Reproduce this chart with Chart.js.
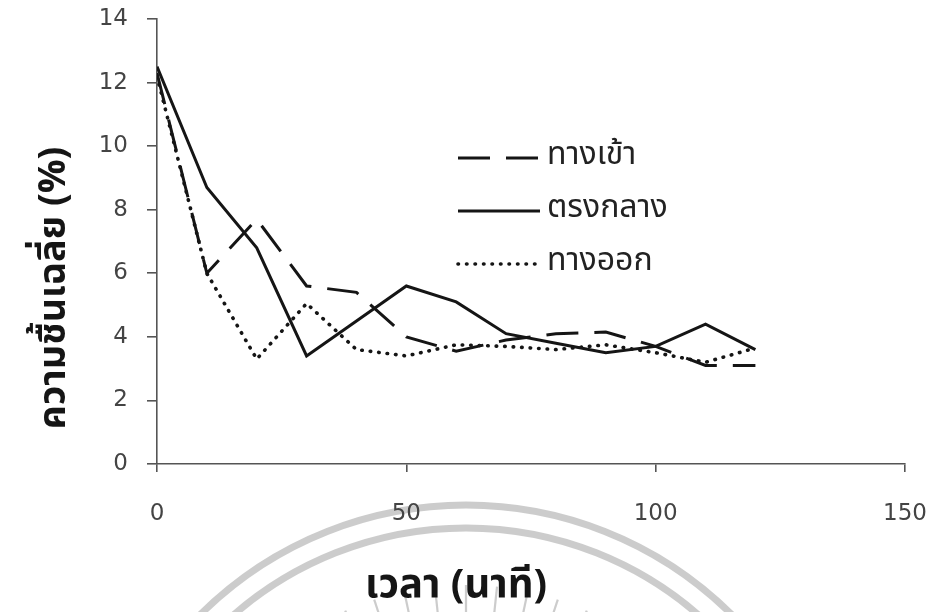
<!DOCTYPE html>
<html>
<head>
<meta charset="utf-8">
<script src="https://cdn.jsdelivr.net/npm/chart.js@4.4.1/dist/chart.umd.min.js"></script>
<style>
  html, body { margin: 0; padding: 0; background: #ffffff; }
  #wrap { width: 935px; height: 612px; position: relative; }
</style>
</head>
<body>
<div id="wrap"><canvas id="chart" width="935" height="612"></canvas></div>
<script>
// Drying time in minutes
const minutes = [0, 10, 20, 30, 40, 50, 60, 70, 80, 90, 100, 110, 120];
// Average moisture (%) measured at three positions in the dryer
const inletMoisture  = [12.3, 6.0, 7.7, 5.6, 5.4, 4.0, 3.55, 3.9, 4.1, 4.15, 3.7, 3.1, 3.1];
const middleMoisture = [12.5, 8.7, 6.8, 3.4, 4.5, 5.6, 5.1, 4.1, 3.8, 3.5, 3.7, 4.4, 3.6];
const outletMoisture = [12.2, 6.0, 3.3, 5.05, 3.6, 3.4, 3.75, 3.7, 3.6, 3.75, 3.5, 3.2, 3.65];

const seriesNames = ['ทางเข้า', 'ตรงกลาง', 'ทางออก'];
const xTickValues = [0, 50, 100, 150];
const yTickValues = [0, 2, 4, 6, 8, 10, 12, 14];
const xTitle = 'เวลา (นาที)';
const yTitle = 'ความชื้นเฉลี่ย (%)';

const THAI = '"Noto Sans Thai", "Noto Sans Thai UI", "Noto Sans", "DejaVu Sans", sans-serif';
const INK = '#151515';

function points(values) {
  return minutes.map((m, i) => ({ x: m, y: values[i] }));
}

// Faint seal printed behind the plot
const sealPlugin = {
  id: 'seal',
  beforeDraw(chart) {
    const ctx = chart.ctx;
    const cx = 466, cy = 882;
    ctx.save();
    ctx.strokeStyle = 'rgba(195,195,195,0.85)';
    ctx.lineWidth = 7;
    ctx.beginPath(); ctx.arc(cx, cy, 377, Math.PI, 2 * Math.PI); ctx.stroke();
    ctx.beginPath(); ctx.arc(cx, cy, 354, Math.PI, 2 * Math.PI); ctx.stroke();
    ctx.lineWidth = 2.2;
    for (let a = -150; a <= -30; a += 6) {
      const r = a * Math.PI / 180;
      const r0 = 200, r1 = 297;
      ctx.beginPath();
      ctx.moveTo(cx + r0 * Math.cos(r), cy + r0 * Math.sin(r));
      ctx.lineTo(cx + r1 * Math.cos(r), cy + r1 * Math.sin(r));
      ctx.stroke();
    }
    ctx.restore();
  }
};

function fitFont(ctx, text, weight, family, targetWidth) {
  let size = 30;
  ctx.font = weight + ' ' + size + 'px ' + family;
  const w = ctx.measureText(text).width;
  size = size * targetWidth / w;
  return weight + ' ' + size.toFixed(1) + 'px ' + family;
}

// Axis titles and the in-plot legend
const annotatePlugin = {
  id: 'annotate',
  afterDraw(chart) {
    const ctx = chart.ctx;
    ctx.save();
    ctx.fillStyle = INK;

    // x-axis title
    ctx.font = fitFont(ctx, xTitle, 'bold', THAI, 182);
    ctx.textAlign = 'center';
    ctx.textBaseline = 'middle';
    ctx.fillText(xTitle, 456, 589);

    // y-axis title
    ctx.save();
    ctx.translate(57, 288);
    ctx.rotate(-Math.PI / 2);
    ctx.font = fitFont(ctx, yTitle, 'bold', THAI, 283);
    ctx.fillText(yTitle, 0, 0);
    ctx.restore();

    // legend
    const rows = [158, 211, 264];
    chart.data.datasets.forEach((ds, i) => {
      const y = rows[i];
      ctx.save();
      ctx.strokeStyle = ds.borderColor;
      ctx.lineWidth = ds.borderWidth;
      ctx.lineCap = ds.borderCapStyle || 'butt';
      ctx.setLineDash(ds.borderDash || []);
      ctx.beginPath();
      ctx.moveTo(458, y);
      ctx.lineTo(540, y);
      ctx.stroke();
      ctx.restore();
      ctx.font = '400 32px ' + THAI;
      ctx.textAlign = 'left';
      ctx.textBaseline = 'middle';
      ctx.fillStyle = '#222';
      ctx.fillText(ds.label, 547, y);
    });
    ctx.restore();
  }
};

new Chart(document.getElementById('chart'), {
  type: 'line',
  data: {
    datasets: [
      {
        label: seriesNames[0],
        data: points(inletMoisture),
        borderColor: INK,
        borderWidth: 3,
        borderDash: [32, 16],
        borderCapStyle: 'butt',
        pointRadius: 0,
        tension: 0
      },
      {
        label: seriesNames[1],
        data: points(middleMoisture),
        borderColor: INK,
        borderWidth: 3,
        borderCapStyle: 'butt',
        pointRadius: 0,
        tension: 0
      },
      {
        label: seriesNames[2],
        data: points(outletMoisture),
        borderColor: INK,
        borderWidth: 3.6,
        borderDash: [0.5, 8],
        borderCapStyle: 'round',
        pointRadius: 0,
        tension: 0
      }
    ]
  },
  options: {
    responsive: false,
    animation: false,
    events: [],
    layout: { padding: { left: 0, top: 19, right: 30, bottom: 0 } },
    plugins: {
      legend: { display: false },
      tooltip: { enabled: false },
      title: { display: false }
    },
    scales: {
      x: {
        type: 'linear',
        min: 0,
        max: 150,
        afterBuildTicks(scale) { scale.ticks = xTickValues.map(v => ({ value: v })); },
        afterFit(scale) {
          scale.height = 148;
          scale.paddingLeft = 0; scale.paddingRight = 0;
        },
        border: { display: true, color: '#555', width: 1.6 },
        grid: { display: true, drawOnChartArea: false, drawTicks: true, tickLength: 8, color: '#555', lineWidth: 1.6 },
        ticks: { color: '#444', padding: 28, maxRotation: 0, font: { family: '"DejaVu Sans", sans-serif', size: 23 } }
      },
      y: {
        type: 'linear',
        min: 0,
        max: 14,
        afterBuildTicks(scale) { scale.ticks = yTickValues.map(v => ({ value: v })); },
        afterFit(scale) {
          scale.width = 157;
          scale.paddingTop = 0; scale.paddingBottom = 0;
        },
        border: { display: true, color: '#555', width: 1.6 },
        grid: { display: true, drawOnChartArea: false, drawTicks: true, tickLength: 10, color: '#555', lineWidth: 1.6 },
        ticks: { color: '#444', padding: 19, font: { family: '"DejaVu Sans", sans-serif', size: 23 } }
      }
    }
  },
  plugins: [sealPlugin, annotatePlugin]
});
</script>
</body>
</html>
